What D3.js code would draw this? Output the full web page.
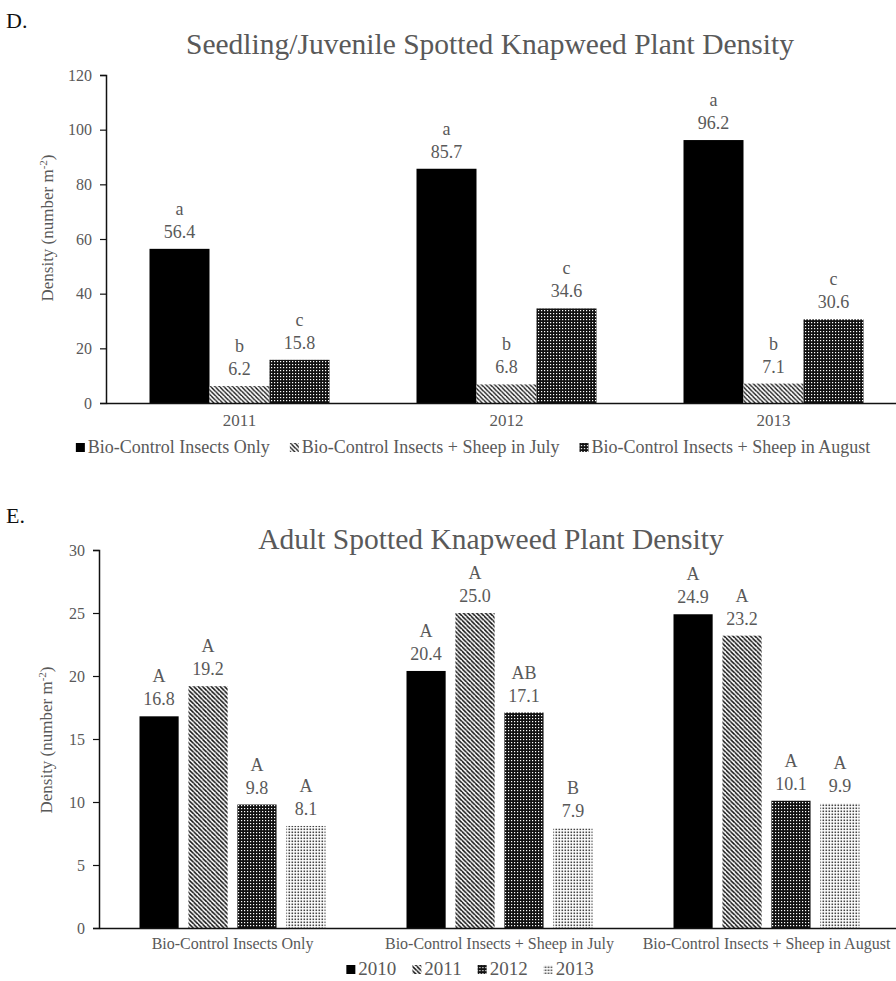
<!DOCTYPE html>
<html lang="en">
<head>
<meta charset="UTF-8">
<title>Spotted Knapweed Plant Density</title>
<script src="https://d3js.org/d3.v7.min.js"></script>
<style>
  body { margin: 0; background: #fff; }
  svg text { font-family: "Liberation Serif", "Times New Roman", serif; fill: #595959; }
</style>
</head>
<body>
<svg id="fig" width="896" height="981"></svg>
<script>
// ---- panel D data ----
const yearsD = ["2011", "2012", "2013"];
const treatmentsD = ["Bio-Control Insects Only", "Bio-Control Insects + Sheep in July", "Bio-Control Insects + Sheep in August"];
const insectsOnlyD = [56.4, 85.7, 96.2];
const sheepJulyD = [6.2, 6.8, 7.1];
const sheepAugustD = [15.8, 34.6, 30.6];
const lettersD = [["a", "b", "c"], ["a", "b", "c"], ["a", "b", "c"]];
const ticksD = [0, 20, 40, 60, 80, 100, 120];

// ---- panel E data ----
const treatmentsE = ["Bio-Control Insects Only", "Bio-Control Insects + Sheep in July", "Bio-Control Insects + Sheep in August"];
const yearsE = ["2010", "2011", "2012", "2013"];
const y2010 = [16.8, 20.4, 24.9];
const y2011 = [19.2, 25.0, 23.2];
const y2012 = [9.8, 17.1, 10.1];
const y2013 = [8.1, 7.9, 9.9];
const lettersE = [["A", "A", "A", "A"], ["A", "A", "AB", "B"], ["A", "A", "A", "A"]];
const ticksE = [0, 5, 10, 15, 20, 25, 30];

const svg = d3.select("#fig");
const defs = svg.append("defs");

// fill patterns
function diagPattern(id, gap, sw) {
  const p = defs.append("pattern").attr("id", id).attr("patternUnits", "userSpaceOnUse")
    .attr("width", gap).attr("height", gap);
  p.append("rect").attr("width", gap).attr("height", gap).attr("fill", "#fff");
  p.append("path")
    .attr("d", `M0,0L${gap},${gap}M${-gap},0L0,${gap}M0,${-gap}L${gap},0M${gap},${-gap}L${2*gap},0M0,${gap}L${gap},${2*gap}`)
    .attr("stroke", "#111").attr("stroke-width", sw);
}
diagPattern("diagSparse", 4.4, 1.4);
diagPattern("diagDense", 4.4, 1.5);

const chk = defs.append("pattern").attr("id", "checker").attr("patternUnits", "userSpaceOnUse")
  .attr("width", 3).attr("height", 3);
chk.append("rect").attr("width", 3).attr("height", 3).attr("fill", "#111");
chk.append("rect").attr("x", 1).attr("y", 1).attr("width", 1.2).attr("height", 1.2).attr("fill", "#fff");

const dots = defs.append("pattern").attr("id", "dots").attr("patternUnits", "userSpaceOnUse")
  .attr("width", 3).attr("height", 3);
dots.append("rect").attr("width", 3).attr("height", 3).attr("fill", "#fff");
dots.append("rect").attr("x", 0.5).attr("y", 0.5).attr("width", 1.6).attr("height", 1.6).attr("fill", "#444");

function drawPanel(o) {
  const g = svg.append("g");
  const x0 = d3.scaleBand().domain(o.groups).range([o.left, o.left + o.bandW * o.groups.length]);
  const x1 = d3.scaleBand().domain(o.series).range([-o.span / 2, o.span / 2]).paddingInner(o.innerPad);
  const y = d3.scaleLinear().domain([0, d3.max(o.ticks)]).range([o.bottom, o.top]);

  // panel letter and title
  g.append("text").attr("x", 6).attr("y", o.panelY).attr("font-size", 22).style("fill", "#111").text(o.panel);
  g.append("text").attr("x", o.titleX).attr("y", o.titleY).attr("text-anchor", "middle")
    .attr("font-size", 29.5).text(o.title);

  // bars
  o.groups.forEach((grp, i) => {
    o.series.forEach((s, j) => {
      const v = o.values[j][i];
      const cx = x0(grp) + x0.bandwidth() / 2 + x1(s);
      g.append("rect").attr("x", cx).attr("y", y(v)).attr("width", x1.bandwidth())
        .attr("height", y(0) - y(v)).attr("fill", o.fills[j]);
      const mx = cx + x1.bandwidth() / 2;
      g.append("text").attr("x", mx).attr("y", y(v) - 11).attr("text-anchor", "middle")
        .attr("font-size", 18).text(v.toFixed(1));
      g.append("text").attr("x", mx).attr("y", y(v) - 34).attr("text-anchor", "middle")
        .attr("font-size", 18).text(o.letters[i][j]);
    });
  });

  // y axis
  const ya = g.append("g").attr("transform", `translate(${o.left},0)`)
    .call(d3.axisLeft(y).tickValues(o.ticks).tickSize(6).tickPadding(8).tickFormat(d3.format("d")));
  ya.select(".domain").attr("stroke", "#111").attr("stroke-width", 1.5);
  ya.selectAll(".tick line").attr("stroke", "#111").attr("stroke-width", 1.2);
  ya.selectAll(".tick text").attr("font-size", 16).style("fill", "#595959").attr("font-family", null);

  // x axis
  const xa = g.append("g").attr("transform", `translate(0,${o.bottom})`)
    .call(d3.axisBottom(x0).tickSize(0).tickPadding(o.xPad));
  xa.select(".domain").attr("stroke", "#111").attr("stroke-width", 1.5);
  xa.selectAll(".tick text").attr("font-size", o.xFont).style("fill", "#595959").attr("font-family", null);

  // y title
  const yt = g.append("text").attr("transform", `translate(${o.yTitleX},${o.yTitleY}) rotate(-90)`)
    .attr("text-anchor", "middle").attr("font-size", 17);
  yt.append("tspan").text("Density (number m");
  yt.append("tspan").attr("dy", -6).attr("font-size", 11).text("-2");
  yt.append("tspan").attr("dy", 6).text(")");

  // legend
  const lg = g.append("g");
  let lx = 0;
  o.series.forEach((s, j) => {
    lg.append("rect").attr("x", lx).attr("y", -10).attr("width", 9).attr("height", 9).attr("fill", o.fills[j]);
    const t = lg.append("text").attr("x", lx + 12).attr("y", 0).attr("font-size", o.legendFont).text(s);
    lx += 12 + t.node().getComputedTextLength() + o.legendGap;
  });
  lx -= o.legendGap;
  lg.attr("transform", `translate(${o.legendCX - lx / 2},${o.legendY})`);
}

drawPanel({
  panel: "D.", panelY: 28, title: "Seedling/Juvenile Spotted Knapweed Plant Density", titleX: 490, titleY: 54,
  groups: yearsD, series: treatmentsD,
  values: [insectsOnlyD, sheepJulyD, sheepAugustD],
  letters: lettersD, ticks: ticksD,
  fills: ["#000", "url(#diagSparse)", "url(#checker)"],
  left: 106, bandW: 267, span: 180, innerPad: 0,
  top: 75, bottom: 403, xPad: 11, xFont: 17,
  yTitleX: 53, yTitleY: 228,
  legendCX: 473, legendY: 453, legendFont: 18, legendGap: 20
});

drawPanel({
  panel: "E.", panelY: 523, title: "Adult Spotted Knapweed Plant Density", titleX: 491, titleY: 549,
  groups: treatmentsE, series: yearsE,
  values: [y2010, y2011, y2012, y2013],
  letters: lettersE, ticks: ticksE,
  fills: ["#000", "url(#diagDense)", "url(#checker)", "url(#dots)"],
  left: 99, bandW: 267, span: 186, innerPad: 0.2,
  top: 550, bottom: 928, xPad: 10, xFont: 16,
  yTitleX: 52, yTitleY: 740,
  legendCX: 470, legendY: 975, legendFont: 19, legendGap: 16
});
</script>
</body>
</html>
